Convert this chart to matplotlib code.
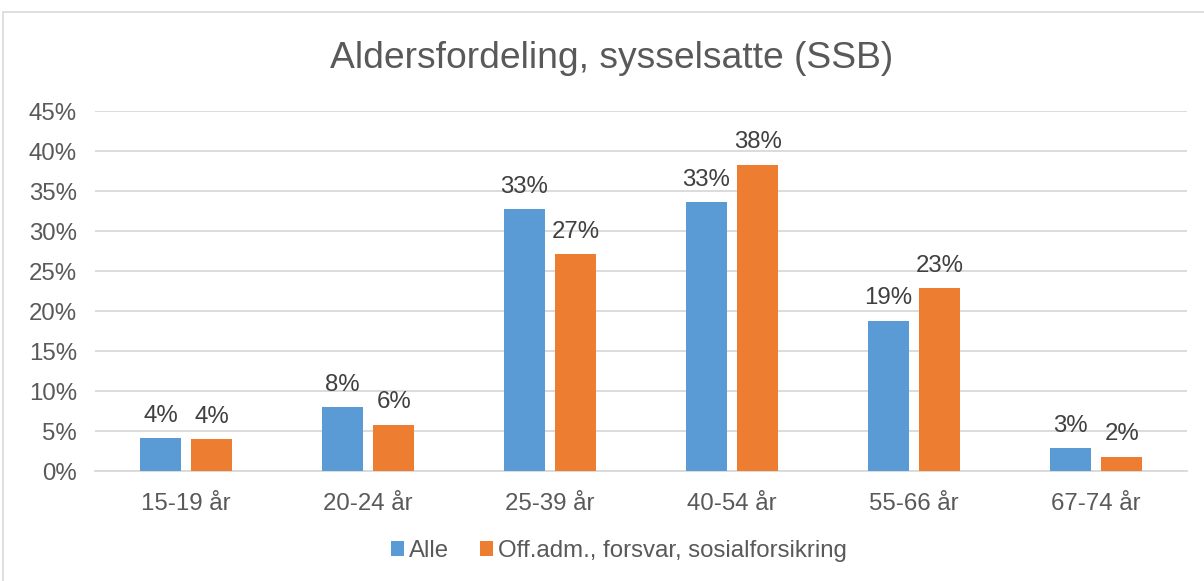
import matplotlib.pyplot as plt
import matplotlib.patches as mpatches
import numpy as np

plt.rcParams['font.family'] = ['Liberation Sans', 'DejaVu Sans']

categories = ["15-19 år", "20-24 år", "25-39 år", "40-54 år", "55-66 år", "67-74 år"]
alle = [4.1, 8.0, 32.7, 33.6, 18.8, 2.9]
off_adm = [4.0, 5.8, 27.1, 38.3, 22.9, 1.8]
alle_labels = ["4%", "8%", "33%", "33%", "19%", "3%"]
off_labels = ["4%", "6%", "27%", "38%", "23%", "2%"]
series_names = ["Alle", "Off.adm., forsvar, sosialforsikring"]

blue = "#5B9BD5"
orange = "#ED7D31"
text_col = "#595959"

fig = plt.figure(figsize=(12.04, 5.81), dpi=100)
ax = fig.add_axes([0.079, 0.1893, 0.907, 0.6196])

# outer chart frame
fig.patches.append(mpatches.Rectangle((3 / 1204, -0.1), 1.2, 1 - 12 / 581 + 0.1,
                                      transform=fig.transFigure, fill=False,
                                      edgecolor="#D9D9D9", linewidth=1.2))

x = np.arange(len(categories))
w = 0.227
off = 0.141
b1 = ax.bar(x - off, alle, w, color=blue, label=series_names[0], zorder=3)
b2 = ax.bar(x + off, off_adm, w, color=orange, label=series_names[1], zorder=3)

for bars, labels in ((b1, alle_labels), (b2, off_labels)):
    for rect, lab in zip(bars, labels):
        ax.text(rect.get_x() + rect.get_width() / 2, rect.get_height() + 1.4, lab,
                ha="center", va="bottom", fontsize=17.3, color="#404040")

ax.set_xlim(-0.5, len(categories) - 0.5)
ax.set_ylim(0, 45)
ax.set_yticks(np.arange(0, 46, 5))
ax.set_yticklabels([f"{v}%" for v in range(0, 46, 5)])
ax.set_xticks(x)
ax.set_xticklabels(categories)
ax.tick_params(axis="both", length=0, labelsize=17.3, labelcolor=text_col)
ax.tick_params(axis="y", pad=13)
ax.tick_params(axis="x", pad=16)
ax.grid(axis="y", color="#D9D9D9", linewidth=1.3, zorder=0)
for s in ("top", "right", "left"):
    ax.spines[s].set_visible(False)
ax.spines["bottom"].set_color("#D9D9D9")
ax.spines["bottom"].set_linewidth(1.3)

fig.text(0.508, 0.9, "Aldersfordeling, sysselsatte (SSB)", ha="center", va="center",
         fontsize=26.8, color=text_col)

fig.legend(loc="center", bbox_to_anchor=(0.514, 0.052), ncol=2, frameon=False,
           fontsize=17.3, handlelength=0.55, handleheight=0.55, handletextpad=0.2,
           columnspacing=1.3, labelcolor=text_col)

fig.savefig("out.png", dpi=100)
